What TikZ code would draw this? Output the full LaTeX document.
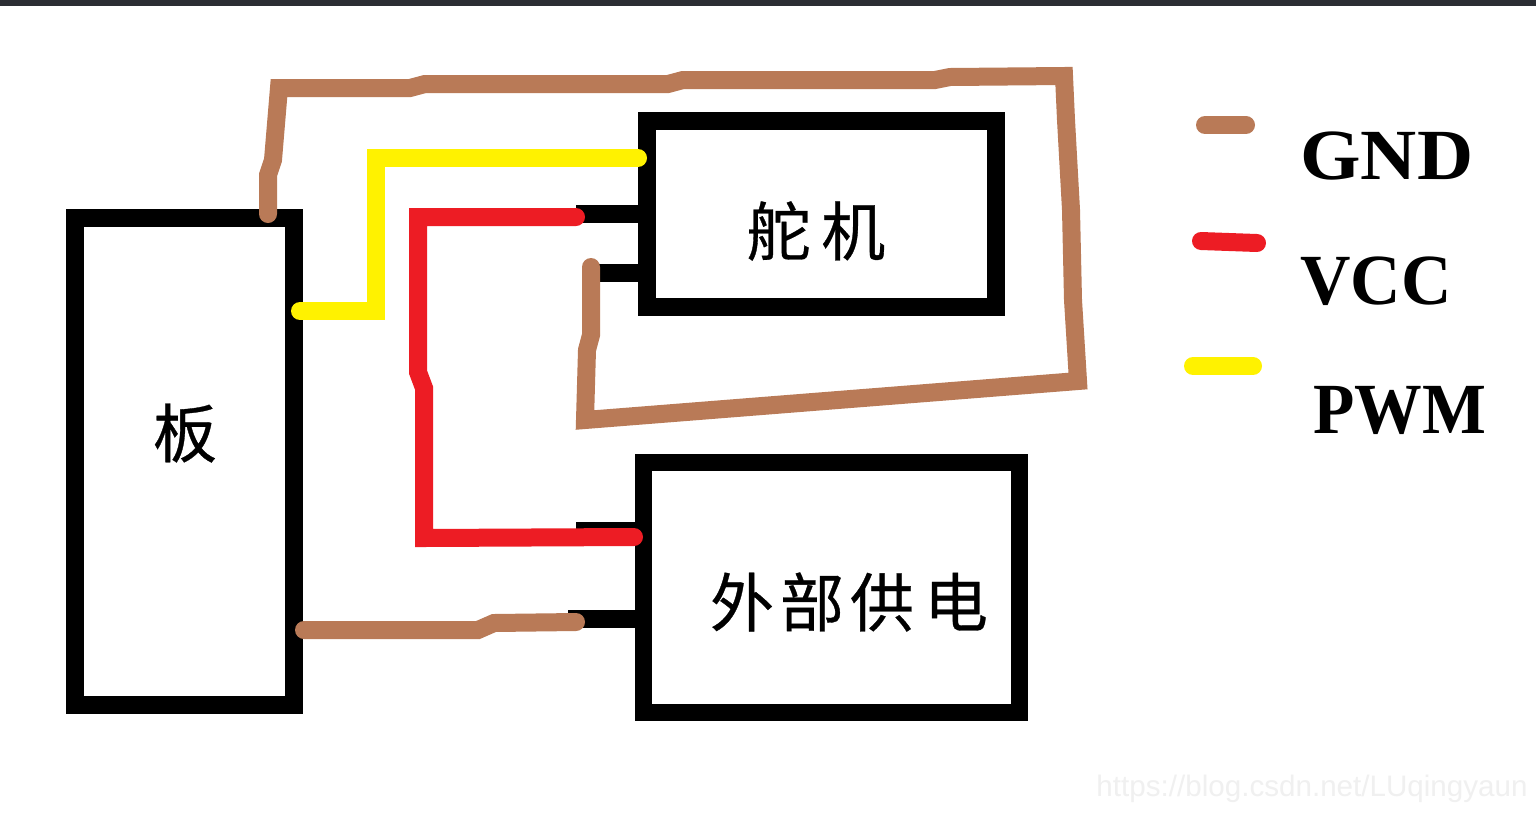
\documentclass[tikz,border=0pt]{standalone}
\usepackage{graphicx}
\usepackage{fontspec}
\setmainfont{Liberation Serif}
\newfontfamily\cjk[FakeBold=0.5]{Noto Sans CJK SC}
\newfontfamily\wm{Liberation Sans}
\definecolor{gndc}{HTML}{B97A57}
\definecolor{vccc}{HTML}{ED1C24}
\definecolor{pwmc}{HTML}{FFF200}
\definecolor{barc}{HTML}{2B2D33}
\tikzset{
 box/.style={draw=black,line width=8.6pt,fill=none,inner sep=0,minimum width=0},
 wire/.style={line width=9pt,line cap=round,line join=miter},
 stub/.style={draw=black,line width=9pt},
 gnd/.style={wire,draw=gndc},
 vcc/.style={wire,draw=vccc},
 pwm/.style={wire,draw=pwmc},
 lab/.style={font=\fontsize{36pt}{36pt}\selectfont\bfseries,inner sep=0},
 cjklab/.style={font=\cjk\fontsize{32pt}{32pt}\selectfont,inner sep=0},
}
\begin{document}
\begin{tikzpicture}[x=0.5pt,y=-0.5pt]
\useasboundingbox (0,0) rectangle (1536,820);
\fill[white] (0,0) rectangle (1536,820);
\fill[barc] (0,0) rectangle (1536,6);
% boxes
\node[box,minimum width=109.5pt,minimum height=243.5pt] (board) at (184.5,461.5) {};
\node[box,minimum width=174.5pt,minimum height=93pt] (servo) at (821.5,214) {};
\node[box,minimum width=188pt,minimum height=125pt] (power) at (831.5,587.5) {};
\node[cjklab] (tboard) at (185,433) {板};
\node[cjklab] (tservo) at (816,231) {舵\,机};
\node[cjklab] (tpower) at (849,602) {外\kern3pt 部\kern3pt 供\kern5pt 电};
% coordinates
\coordinate (bTop) at (268,214);
\coordinate (g1) at (279,88);
\coordinate (g2) at (1064,76);
\coordinate (g3) at (1078,381);
\coordinate (g4) at (585,420);
\coordinate (g5) at (591,267);
\coordinate (sGnd) at (645,273);
\coordinate (p1) at (300,311);
\coordinate (p2) at (376,311);
\coordinate (p3) at (376,158);
\coordinate (p4) at (638,158);
\coordinate (sVcc) at (645,214);
\coordinate (v1) at (576,217);
\coordinate (v2) at (418,217);
\coordinate (v3) at (424,538);
\coordinate (v4) at (634,537);
\coordinate (pVcc) at (640,527);
\coordinate (pGnd) at (640,619);
\coordinate (g6) at (576,622);
\coordinate (g7) at (304,630);
% stubs
\draw[stub] (576,214) -- (sVcc);
\draw[stub] (g5 |- sGnd) -- (sGnd);
\draw[stub,line width=5pt] (576,527) -- (pVcc);
\draw[stub] (568,619) -- (pGnd);
% wires
\draw[gnd] (bTop) -- (268,175) -- (273,160) -- (g1) -- (410,88) -- (425,84) -- (668,84) -- (683,80) -- (935,80) -- (950,77) -- (g2)
  -- (1066,120) -- (1071,210) -- (1073,300) -- (g3) -- (g4) -- (587,350) -- (591,335) -- (g5);
\draw[pwm] (p1) -- (p2) -- (p3) -- (p4);
\draw[vcc] (v1) -- (v2) -- (418,372) -- (424,388) -- (v3) -- (v4);
\draw[gnd] (g7) -- (478,630) -- (494,623) -- (g6);
% legend
\coordinate (lg1) at (1205,125); \coordinate (lg2) at (1246,125);
\coordinate (lv1) at (1201,241); \coordinate (lv2) at (1257,243);
\coordinate (lp1) at (1193,366); \coordinate (lp2) at (1253,366);
\draw[gnd] (lg1) -- (lg2);
\draw[vcc] (lv1) -- (lv2);
\draw[pwm] (lp1) -- (lp2);
\node[lab,anchor=west] (tg) at (1300,156) {\scalebox{1.08}[1]{GND}};
\node[lab,anchor=west] (tv) at (1300,281) {\scalebox{0.97}[1]{VCC}};
\node[lab,anchor=west] (tp) at (1313,410) {\scalebox{0.94}[1]{PWM}};
\node[font=\wm\fontsize{14.8pt}{14.8pt}\selectfont,text=black!6,anchor=east,inner sep=0] (wmk) at (1528,789) {https://blog.csdn.net/LUqingyaun};
\end{tikzpicture}
\end{document}
